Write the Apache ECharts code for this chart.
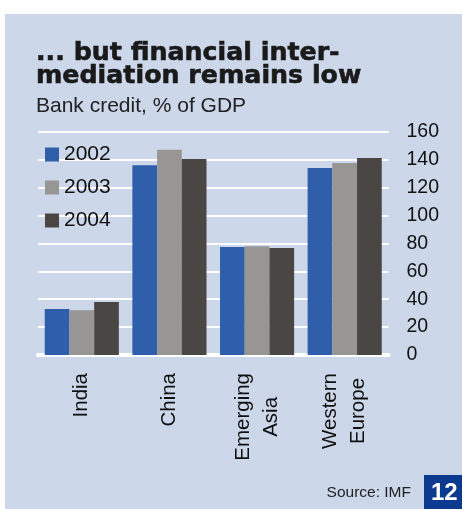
<!DOCTYPE html>
<html>
<head>
<meta charset="utf-8">
<script src="https://cdn.jsdelivr.net/npm/echarts@6/dist/echarts.min.js"></script>
<style>
  html, body { margin: 0; padding: 0; background: #ffffff; }
  #chart { width: 462px; height: 509px; }
</style>
</head>
<body>
<div id="chart"></div>
<script>
// Bank credit as a share of GDP
var categories = ['India', 'China', 'Emerging\nAsia', 'Western\nEurope'];
var years = ['2002', '2003', '2004'];
var credit2002 = [33, 136, 77.4, 134];
var credit2003 = [32, 147, 78, 137.6];
var credit2004 = [38, 140.4, 76.7, 141.2];
var yTicks = { min: 0, max: 160, interval: 20 };

var panelColor = '#ccd7ea';
var colors = ['#2f5eaa', '#979694', '#4a4644'];
var sans = '"Liberation Sans", Arial, Helvetica, sans-serif';

var chart = echarts.init(document.getElementById('chart'));

function barSeries(name, values, color) {
  return {
    name: name,
    type: 'bar',
    data: values,
    barGap: 0,
    barCategoryGap: '15.4%',
    itemStyle: { color: color },
    emphasis: { disabled: true }
  };
}

chart.setOption({
  backgroundColor: '#ffffff',
  animation: false,
  graphic: [
    {
      type: 'rect', z: -10, silent: true,
      shape: { x: 5, y: 14, width: 457, height: 495 },
      style: { fill: panelColor }
    },
    {
      type: 'text', silent: true,
      style: {
        x: 411, y: 492.5, text: 'Source: IMF',
        align: 'right', verticalAlign: 'middle',
        font: '15.5px ' + sans, fill: '#222222'
      }
    },
    {
      type: 'rect', silent: true,
      shape: { x: 424, y: 475, width: 38, height: 34 },
      style: { fill: '#0b3a8f' }
    },
    {
      type: 'text', silent: true,
      style: {
        x: 444.3, y: 493, text: '12',
        align: 'center', verticalAlign: 'middle',
        font: 'bold 24px ' + sans, fill: '#ffffff'
      }
    }
  ],
  title: {
    text: '... but financial inter-\nmediation remains low',
    subtext: 'Bank credit, % of GDP',
    left: 36,
    top: 41.3,
    padding: 0,
    itemGap: 5.3,
    textStyle: {
      fontFamily: '"DejaVu Sans", sans-serif',
      fontWeight: 'bold',
      fontSize: 25.3,
      lineHeight: 23.4,
      color: '#1a1a1a',
      // slightly thicker strokes for a heavier headline
      textBorderColor: '#1a1a1a',
      textBorderWidth: 0.6
    },
    subtextStyle: {
      fontFamily: sans,
      fontSize: 21,
      lineHeight: 21,
      color: '#222222'
    }
  },
  legend: {
    data: years,
    orient: 'vertical',
    left: 45,
    top: 144,
    padding: 0,
    itemWidth: 14,
    itemHeight: 14,
    itemGap: 12,
    icon: 'rect',
    selectedMode: false,
    textStyle: {
      fontFamily: sans,
      fontSize: 21,
      lineHeight: 20,
      color: '#111111'
    }
  },
  grid: {
    left: 38,
    right: 73.5,
    top: 131.7,
    bottom: 154,
    containLabel: false
  },
  xAxis: {
    type: 'category',
    data: categories,
    axisTick: { show: false },
    axisLine: {
      show: true,
      lineStyle: { color: '#ffffff', width: 4, cap: 'round' }
    },
    axisLabel: {
      rotate: 90,
      margin: 18,
      interval: 0,
      formatter: function (value) {
        return value.split('\n').map(function (line) {
          return '{c|' + line + '}';
        }).join('\n');
      },
      rich: {
        c: {
          align: 'center',
          fontFamily: sans,
          fontSize: 20.5,
          lineHeight: 28,
          color: '#111111'
        }
      }
    }
  },
  yAxis: {
    type: 'value',
    position: 'right',
    min: yTicks.min,
    max: yTicks.max,
    interval: yTicks.interval,
    axisLine: { show: false },
    axisTick: { show: false },
    axisLabel: {
      margin: 18,
      fontFamily: sans,
      fontSize: 19.5,
      color: '#111111'
    },
    splitLine: {
      show: true,
      lineStyle: { color: '#ffffff', width: 2 }
    }
  },
  series: [
    barSeries(years[0], credit2002, colors[0]),
    barSeries(years[1], credit2003, colors[1]),
    barSeries(years[2], credit2004, colors[2])
  ]
});
</script>
</body>
</html>
